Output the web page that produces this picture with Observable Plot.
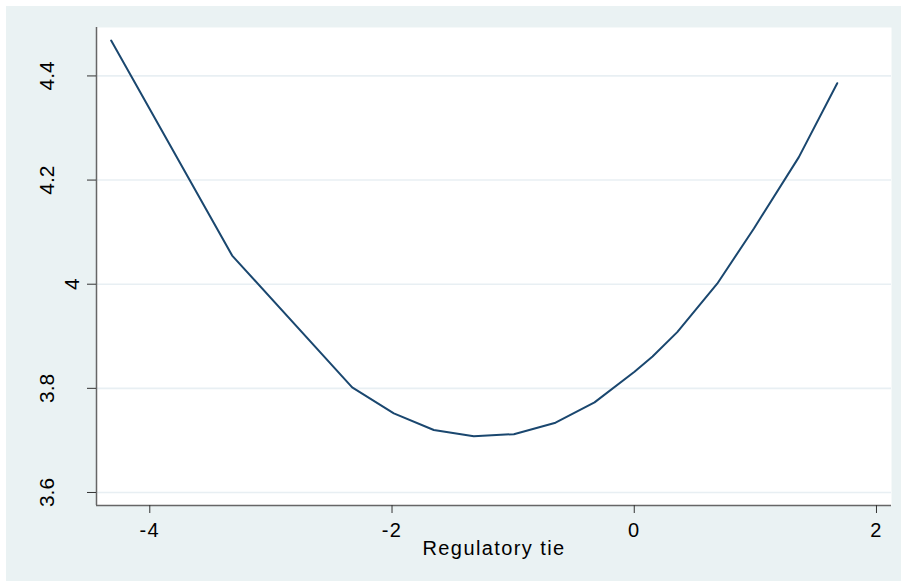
<!DOCTYPE html>
<html>
<head>
<meta charset="utf-8">
<script src="https://cdn.jsdelivr.net/npm/d3@7"></script>
<script src="https://cdn.jsdelivr.net/npm/@observablehq/plot@0.6"></script>
<style>
  html, body { margin: 0; padding: 0; background: #ffffff; }
  #chart svg { display: block; margin: 6px 0 0 6px; background: #eaf2f3; overflow: visible; }
  g[aria-label="x-axis tick label"] text, .xtitle text { letter-spacing: 1.4px; }
</style>
</head>
<body>
<div id="chart"></div>
<script>
// Data
const tieValues = [-4.319, -3.320, -2.329, -1.985, -1.655, -1.325, -0.994, -0.650, -0.328, 0.002, 0.151, 0.355, 0.685, 0.988, 1.359, 1.676];
const predValues = [4.468, 4.055, 3.802, 3.752, 3.720, 3.708, 3.712, 3.734, 3.773, 3.832, 3.861, 3.908, 4.001, 4.107, 4.244, 4.386];
const xTicks = [-4, -2, 0, 2];
const yTicksDecimal = [3.6, 3.8, 4.2, 4.4];
const yTicksInteger = [4];
const yGrid = [3.6, 3.8, 4, 4.2, 4.4];
const xTitle = "Regulatory tie";

const xDomain = [-4.44, 2.124];
const yDomain = [3.575, 4.493];

const points = tieValues.map((x, i) => ({x, y: predValues[i]}));
const font = "Arial, 'Liberation Sans', Helvetica, sans-serif";

const chart = Plot.plot({
  width: 895,
  height: 575,
  marginLeft: 90,
  marginRight: 10,
  marginTop: 21,
  marginBottom: 76,
  style: {fontFamily: font, fontSize: "20px", color: "#000", background: "#eaf2f3"},
  x: {domain: xDomain},
  y: {domain: yDomain},
  marks: [
    Plot.frame({fill: "#ffffff", stroke: null}),
    Plot.ruleY(yGrid, {stroke: "#e8eff3", strokeWidth: 1.6}),
    Plot.ruleX([xDomain[0]], {stroke: "#666666", strokeWidth: 1.5}),
    Plot.ruleY([yDomain[0]], {stroke: "#666666", strokeWidth: 1.5}),
    Plot.axisX({ticks: xTicks, tickSize: 8, tickPadding: 9, tickFormat: d => String(d), label: null, stroke: "#333", fontSize: 20}),
    Plot.axisY({ticks: yTicksDecimal, tickSize: 9, tickPadding: 34, tickRotate: -90, tickFormat: d => String(d), label: null, stroke: "#333", fontSize: 21}),
    Plot.axisY({ticks: yTicksInteger, tickSize: 9, tickPadding: 9, tickRotate: -90, tickFormat: d => String(d), label: null, stroke: "#333", fontSize: 21}),
    Plot.text([xTitle], {frameAnchor: "bottom", dy: 43, lineAnchor: "middle", fontSize: 20, fill: "#000", className: "xtitle"}),
    Plot.line(points, {x: "x", y: "y", stroke: "#1a476f", strokeWidth: 2})
  ]
});
document.getElementById("chart").appendChild(chart);
</script>
</body>
</html>
